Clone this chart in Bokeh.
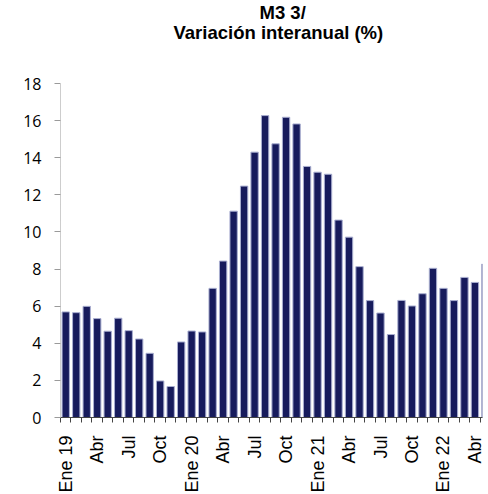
from bokeh.plotting import figure
from bokeh.models import FixedTicker, Range1d, Title, ColumnDataSource
from bokeh.embed import file_html
from bokeh.resources import INLINE
import math

months = ["Ene 19", "Feb", "Mar", "Abr", "May", "Jun", "Jul", "Ago", "Sep", "Oct", "Nov", "Dic",
          "Ene 20", "Feb", "Mar", "Abr", "May", "Jun", "Jul", "Ago", "Sep", "Oct", "Nov", "Dic",
          "Ene 21", "Feb", "Mar", "Abr", "May", "Jun", "Jul", "Ago", "Sep", "Oct", "Nov", "Dic",
          "Ene 22", "Feb", "Mar", "Abr", "May"]
values = [5.69, 5.65, 5.99, 5.33, 4.65, 5.35, 4.68, 4.23, 3.46, 1.97, 1.67, 4.07,
          4.66, 4.61, 6.96, 8.43, 11.12, 12.47, 14.30, 16.27, 14.75, 16.18, 15.82, 13.53,
          13.22, 13.11, 10.64, 9.72, 8.13, 6.30, 5.63, 4.47, 6.31, 6.01, 6.67, 8.04,
          6.96, 6.30, 7.55, 7.28, 8.27]
y_ticks = [0, 2, 4, 6, 8, 10, 12, 14, 16, 18]
title_lines = ["M3 3/", "Variación interanual (%)"]
label_step = 3

x = list(range(len(values)))
src = ColumnDataSource(dict(x=x, top=values, month=months))

p = figure(frame_width=422, frame_height=334,
           min_border_left=60, min_border_right=2, min_border_top=83, min_border_bottom=60,
           x_range=Range1d(-0.5, 39.72), y_range=Range1d(0, 18),
           output_backend="svg", toolbar_location=None)
p.title = None
p.background_fill_color = "white"
p.border_fill_color = "white"
p.outline_line_color = None
p.xgrid.visible = False
p.ygrid.visible = False

p.vbar(x="x", top="top", width=0.7, bottom=0, source=src,
       fill_color="#171b5c", line_color="#a9aed0", line_width=1)

# spacer between frame and titles, then the two title lines
p.add_layout(Title(text=" ", text_font="Liberation Sans", text_font_size="18.5px",
                   standoff=19), "above")
p.add_layout(Title(text=title_lines[1], text_font="Liberation Sans",
                   text_font_size="18.5px", text_font_style="bold", text_color="black",
                   align="left", offset=113, standoff=-3), "above")
p.add_layout(Title(text=title_lines[0], text_font="Liberation Sans",
                   text_font_size="18.5px", text_font_style="bold", text_color="black",
                   align="left", offset=199, standoff=-3), "above")

# y axis
ya = p.yaxis[0]
ya.ticker = FixedTicker(ticks=y_ticks)
ya.axis_line_color = "#9a9a9a"
ya.axis_line_dash = "1 1"
ya.major_tick_line_color = "#9a9a9a"
ya.major_tick_out = 6
ya.major_tick_in = 0
ya.minor_tick_line_color = None
ya.major_label_text_font = "Open Sans"
ya.major_label_text_font_size = "16px"
ya.major_label_text_color = "black"
ya.major_label_standoff = 13

# x axis
xa = p.xaxis[0]
label_pos = x[0:40:label_step]
xa.ticker = FixedTicker(ticks=label_pos, minor_ticks=[i - 0.5 for i in range(41)])
xa.major_label_overrides = {i: months[i] for i in label_pos}
xa.major_label_orientation = math.pi / 2
xa.major_tick_out = 0
xa.major_tick_in = 0
xa.minor_tick_out = 5
xa.minor_tick_in = 0
xa.minor_tick_line_color = "#444444"
xa.axis_line_color = "#444444"
xa.major_label_text_font = "Liberation Sans"
xa.major_label_text_font_size = "18px"
xa.major_label_text_color = "black"
xa.major_label_standoff = 13

open("out.html", "w").write(file_html(p, INLINE))
